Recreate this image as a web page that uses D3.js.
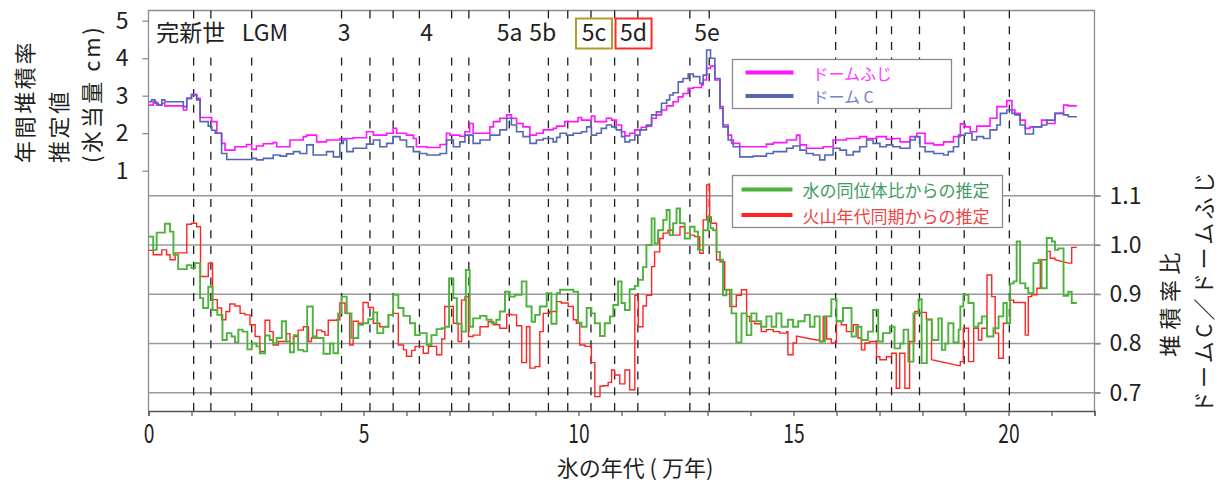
<!DOCTYPE html>
<html><head><meta charset="utf-8">
<script src="https://cdn.jsdelivr.net/npm/d3@7"></script>
<style>
body{margin:0;background:#fff;}
svg text{font-family:"Noto Sans CJK JP","Noto Sans",sans-serif;fill:#231f20;}
</style></head><body>
<svg id="chart" width="1224" height="490"></svg>
<script>
// Ice age axis (10^4 years)
const ageDomain = [0, 22];
const ageTicks = d3.range(0, 23);
const ageLabelTicks = [0, 5, 10, 15, 20];

// Accumulation rate estimates (cm ice eq. / yr), step series [start age, value]
const fujiRate = [[0.00,2.75],[0.11,2.84],[0.19,2.75],[0.31,2.80],[0.38,2.73],[0.81,2.62],[0.89,2.93],[1.00,3.04],[1.12,2.93],[1.20,2.42],[1.47,2.31],[1.59,2.00],[1.70,1.73],[1.78,1.55],[2.01,1.64],[2.28,1.70],[2.40,1.57],[2.51,1.66],[2.67,1.72],[2.90,1.75],[2.98,1.64],[3.29,1.82],[3.60,1.91],[3.68,1.95],[3.91,1.77],[4.14,1.82],[4.45,1.86],[4.76,1.88],[5.07,2.04],[5.23,1.95],[5.54,2.00],[5.69,2.13],[5.77,2.00],[6.00,1.95],[6.16,1.86],[6.23,1.64],[6.47,1.62],[6.78,1.70],[6.93,2.00],[7.01,1.95],[7.24,1.92],[7.36,2.04],[7.47,2.26],[7.55,2.00],[7.94,2.17],[8.02,2.31],[8.17,2.40],[8.33,2.49],[8.44,2.40],[8.56,2.26],[8.71,2.17],[8.87,1.95],[9.02,2.00],[9.18,2.09],[9.41,2.13],[9.49,2.19],[9.68,2.31],[9.99,2.42],[10.07,2.35],[10.30,2.46],[10.38,2.31],[10.65,2.40],[10.77,2.35],[10.88,2.22],[11.00,2.04],[11.08,1.93],[11.19,2.00],[11.31,2.09],[11.46,2.16],[11.58,2.19],[11.70,2.40],[11.81,2.49],[11.93,2.62],[12.05,2.73],[12.20,2.84],[12.32,2.97],[12.43,3.06],[12.55,3.20],[12.67,3.22],[12.86,3.29],[12.90,3.42],[12.98,3.73],[13.07,3.79],[13.17,3.42],[13.29,2.66],[13.36,2.22],[13.48,1.95],[13.56,1.73],[13.75,1.64],[14.37,1.71],[14.53,1.75],[14.84,1.82],[15.07,1.95],[15.15,1.69],[15.30,1.60],[15.69,1.64],[15.92,1.82],[16.23,1.86],[16.54,1.91],[16.70,1.86],[16.93,1.91],[17.16,1.84],[17.31,1.86],[17.48,1.77],[17.71,1.91],[17.87,2.00],[18.06,1.73],[18.26,1.69],[18.49,1.77],[18.72,1.91],[18.88,2.25],[18.99,2.17],[19.11,2.04],[19.26,2.19],[19.57,2.40],[19.73,2.71],[19.96,2.87],[20.08,2.62],[20.15,2.53],[20.27,2.35],[20.39,2.13],[20.50,2.17],[20.77,2.35],[20.89,2.26],[21.08,2.53],[21.28,2.75],[21.39,2.73],[21.59,2.73]];

const domeCRate = [[0.00,2.84],[0.07,2.89],[0.15,2.80],[0.23,2.75],[0.31,2.89],[0.38,2.84],[0.81,2.71],[0.89,2.93],[1.00,3.02],[1.12,2.89],[1.20,2.31],[1.39,2.19],[1.47,2.08],[1.55,2.00],[1.70,1.46],[1.82,1.30],[2.40,1.33],[2.51,1.29],[2.67,1.33],[2.90,1.42],[3.06,1.39],[3.21,1.45],[3.37,1.51],[3.52,1.46],[3.68,1.69],[3.83,1.42],[4.14,1.51],[4.30,1.37],[4.45,1.73],[4.53,1.82],[4.61,1.51],[4.76,1.60],[5.07,1.71],[5.23,1.82],[5.38,1.64],[5.54,1.73],[5.69,1.91],[5.85,1.82],[6.00,1.64],[6.16,1.51],[6.31,1.46],[6.47,1.42],[6.78,1.46],[6.93,1.82],[7.09,1.64],[7.24,1.77],[7.36,1.95],[7.55,1.73],[7.71,1.82],[7.94,1.95],[8.17,2.09],[8.33,2.40],[8.44,2.22],[8.56,2.04],[8.71,1.91],[8.87,1.73],[9.02,1.82],[9.18,1.86],[9.41,1.77],[9.49,1.89],[9.57,2.00],[9.72,1.95],[9.88,2.00],[10.07,2.04],[10.19,2.17],[10.30,1.95],[10.42,2.00],[10.53,2.13],[10.65,2.22],[10.77,2.17],[10.88,2.09],[11.00,1.91],[11.08,1.77],[11.19,1.82],[11.31,1.95],[11.43,2.09],[11.58,2.22],[11.70,2.49],[11.81,2.57],[11.93,2.80],[12.05,2.89],[12.12,3.02],[12.20,3.08],[12.32,3.37],[12.43,3.46],[12.55,3.58],[12.67,3.51],[12.82,3.33],[12.90,3.55],[12.98,4.22],[13.07,4.00],[13.17,3.46],[13.29,2.71],[13.36,2.17],[13.48,1.82],[13.60,1.64],[13.75,1.37],[14.06,1.39],[14.37,1.46],[14.53,1.51],[14.84,1.60],[14.99,1.66],[15.15,1.55],[15.30,1.46],[15.46,1.42],[15.61,1.29],[15.73,1.42],[15.92,1.60],[16.08,1.55],[16.23,1.42],[16.39,1.51],[16.54,1.64],[16.70,1.82],[16.85,1.73],[17.01,1.64],[17.16,1.69],[17.31,1.64],[17.48,1.60],[17.71,1.82],[17.83,1.91],[17.94,1.64],[18.06,1.51],[18.26,1.46],[18.49,1.42],[18.60,1.51],[18.72,1.64],[18.84,1.95],[18.99,2.00],[19.15,1.82],[19.26,1.91],[19.42,1.86],[19.57,2.09],[19.73,2.22],[19.81,2.53],[19.96,2.62],[20.08,2.53],[20.15,2.49],[20.27,2.22],[20.39,1.98],[20.58,2.17],[20.77,2.22],[20.89,2.35],[21.08,2.53],[21.28,2.49],[21.39,2.44],[21.59,2.44]];

// Accumulation ratio Dome C / Dome Fuji
const ratioIsotope = [[0.00,1.017],[0.11,0.990],[0.19,1.025],[0.38,1.043],[0.50,1.027],[0.58,0.980],[0.69,0.951],[0.89,0.959],[1.00,0.953],[1.08,0.963],[1.20,0.892],[1.27,0.872],[1.39,0.915],[1.49,0.868],[1.60,0.858],[1.72,0.807],[1.82,0.821],[1.93,0.814],[2.01,0.802],[2.09,0.828],[2.19,0.824],[2.30,0.788],[2.40,0.800],[2.51,0.794],[2.59,0.780],[2.71,0.816],[2.82,0.807],[2.90,0.800],[2.98,0.811],[3.10,0.845],[3.20,0.804],[3.29,0.782],[3.38,0.817],[3.48,0.787],[3.60,0.784],[3.69,0.875],[3.82,0.814],[3.91,0.811],[4.07,0.779],[4.22,0.800],[4.30,0.780],[4.41,0.861],[4.49,0.895],[4.61,0.861],[4.72,0.811],[4.88,0.838],[4.99,0.841],[5.11,0.849],[5.23,0.863],[5.32,0.821],[5.46,0.834],[5.58,0.858],[5.69,0.899],[5.81,0.872],[5.93,0.856],[6.08,0.841],[6.20,0.817],[6.31,0.821],[6.47,0.797],[6.58,0.817],[6.70,0.829],[6.82,0.831],[6.89,0.834],[6.99,0.932],[7.09,0.892],[7.17,0.840],[7.28,0.824],[7.38,0.949],[7.47,0.834],[7.55,0.851],[7.71,0.856],[7.86,0.848],[7.98,0.841],[8.09,0.848],[8.17,0.865],[8.29,0.905],[8.40,0.895],[8.52,0.899],[8.68,0.926],[8.79,0.875],[8.91,0.844],[8.99,0.858],[9.10,0.875],[9.26,0.902],[9.37,0.840],[9.49,0.902],[9.57,0.909],[9.88,0.905],[9.99,0.842],[10.07,0.834],[10.19,0.872],[10.30,0.861],[10.38,0.841],[10.50,0.815],[10.61,0.841],[10.73,0.855],[10.81,0.878],[10.92,0.926],[11.00,0.882],[11.08,0.868],[11.19,0.910],[11.31,0.917],[11.39,0.929],[11.50,0.955],[11.58,1.000],[11.70,1.054],[11.77,1.003],[11.85,1.030],[11.97,1.051],[12.05,1.071],[12.12,1.020],[12.20,1.044],[12.28,1.074],[12.36,1.044],[12.47,1.013],[12.59,1.037],[12.70,1.027],[12.78,0.990],[12.90,1.030],[13.01,1.057],[13.07,1.034],[13.13,1.030],[13.21,0.986],[13.29,0.970],[13.36,0.898],[13.44,0.909],[13.56,0.861],[13.67,0.802],[13.79,0.861],[13.91,0.817],[14.02,0.861],[14.14,0.845],[14.25,0.834],[14.37,0.855],[14.49,0.834],[14.60,0.861],[14.72,0.834],[14.87,0.848],[14.99,0.834],[15.11,0.845],[15.26,0.858],[15.38,0.834],[15.49,0.855],[15.61,0.804],[15.73,0.855],[15.88,0.890],[16.00,0.845],[16.15,0.872],[16.35,0.814],[16.46,0.834],[16.58,0.807],[16.73,0.824],[16.85,0.868],[16.97,0.804],[17.08,0.821],[17.24,0.834],[17.35,0.790],[17.48,0.800],[17.56,0.828],[17.67,0.763],[17.79,0.861],[17.91,0.890],[17.98,0.760],[18.10,0.848],[18.22,0.807],[18.37,0.851],[18.45,0.787],[18.53,0.800],[18.60,0.841],[18.72,0.802],[18.84,0.828],[18.88,0.875],[18.95,0.899],[19.07,0.882],[19.19,0.834],[19.30,0.841],[19.38,0.855],[19.50,0.814],[19.65,0.831],[19.77,0.855],[19.88,0.882],[19.96,0.841],[20.04,0.922],[20.12,0.926],[20.19,1.007],[20.27,0.922],[20.39,0.912],[20.46,0.902],[20.58,0.963],[20.70,0.970],[20.77,0.912],[20.89,1.014],[21.01,1.007],[21.08,0.990],[21.16,0.993],[21.28,0.897],[21.39,0.905],[21.47,0.882],[21.59,0.882]];

const ratioVolcanic = [[0.00,0.989],[0.11,0.980],[0.31,0.990],[0.42,0.980],[0.50,0.970],[0.62,0.984],[0.89,1.042],[1.00,1.044],[1.12,1.037],[1.21,0.936],[1.39,0.963],[1.49,0.889],[1.60,0.872],[1.70,0.848],[1.80,0.865],[1.89,0.880],[2.01,0.876],[2.13,0.861],[2.24,0.858],[2.36,0.838],[2.48,0.814],[2.59,0.784],[2.71,0.847],[2.82,0.824],[2.90,0.797],[3.02,0.804],[3.21,0.820],[3.29,0.800],[3.37,0.814],[3.48,0.827],[3.60,0.834],[3.72,0.804],[3.79,0.811],[3.91,0.827],[4.03,0.824],[4.10,0.817],[4.18,0.847],[4.37,0.848],[4.45,0.882],[4.57,0.861],[4.68,0.797],[4.76,0.845],[4.88,0.841],[4.99,0.883],[5.11,0.873],[5.23,0.841],[5.38,0.834],[5.58,0.858],[5.69,0.861],[5.81,0.797],[5.93,0.787],[6.00,0.774],[6.12,0.786],[6.20,0.794],[6.39,0.780],[6.51,0.794],[6.70,0.777],[6.82,0.809],[6.89,0.875],[7.09,0.841],[7.20,0.804],[7.28,0.888],[7.36,0.895],[7.44,0.814],[7.55,0.817],[7.71,0.834],[7.90,0.844],[8.02,0.838],[8.17,0.831],[8.33,0.859],[8.44,0.858],[8.56,0.836],[8.68,0.761],[8.79,0.834],[8.87,0.750],[8.99,0.753],[9.10,0.824],[9.18,0.861],[9.33,0.865],[9.49,0.885],[9.60,0.882],[9.76,0.875],[9.88,0.848],[9.95,0.841],[10.03,0.797],[10.15,0.794],[10.30,0.761],[10.38,0.692],[10.50,0.713],[10.57,0.714],[10.69,0.721],[10.77,0.746],[10.84,0.736],[10.96,0.718],[11.08,0.746],[11.19,0.706],[11.31,0.898],[11.39,0.834],[11.50,0.876],[11.58,0.898],[11.70,0.956],[11.77,0.986],[11.89,1.013],[11.97,1.024],[12.08,1.030],[12.20,1.020],[12.36,1.037],[12.47,1.024],[12.59,1.020],[12.70,1.017],[12.82,0.983],[12.90,1.051],[12.98,1.122],[13.05,1.057],[13.09,1.044],[13.21,0.970],[13.29,0.966],[13.40,0.909],[13.52,0.875],[13.67,0.898],[13.79,0.909],[13.91,0.855],[13.98,0.845],[14.10,0.840],[14.25,0.824],[14.37,0.828],[14.53,0.824],[14.68,0.821],[14.84,0.824],[14.87,0.777],[14.99,0.801],[15.07,0.815],[15.53,0.807],[15.61,0.804],[15.69,0.855],[15.77,0.809],[15.88,0.801],[16.00,0.845],[16.11,0.838],[16.23,0.824],[16.39,0.838],[16.50,0.811],[16.58,0.787],[16.66,0.801],[16.77,0.804],[16.93,0.773],[17.01,0.767],[17.16,0.773],[17.28,0.780],[17.39,0.709],[17.47,0.780],[17.59,0.709],[17.70,0.804],[17.82,0.865],[17.90,0.861],[17.97,0.863],[18.09,0.849],[18.21,0.767],[18.84,0.755],[18.88,0.763],[18.95,0.831],[19.07,0.763],[19.19,0.831],[19.30,0.807],[19.38,0.831],[19.50,0.939],[19.61,0.895],[19.69,0.821],[19.77,0.770],[19.88,0.841],[20.04,0.888],[20.12,0.883],[20.39,0.817],[20.46,0.895],[20.54,0.899],[20.66,0.912],[20.74,0.970],[20.89,0.987],[20.97,0.973],[21.08,0.970],[21.39,0.963],[21.47,0.995],[21.59,0.995]];
// Intervals without synchronisation points: joined by straight lines
const volcanicGapStarts = [15.07, 18.21, 21.08];

// Event markers (dashed) and period labels
const markerAges = [1.05, 1.45, 2.40, 4.49, 5.15, 5.69, 6.30, 7.05, 7.45, 8.39, 9.30, 9.75, 10.29, 10.84, 11.38, 12.59, 13.04, 15.98, 16.93, 17.28, 17.93, 18.97, 20.02];
const periodNames = ["完新世", "LGM", "3", "4", "5a", "5b", "5c", "5d", "5e"];
const periodAges = [0.98, 2.71, 4.55, 6.47, 8.40, 9.17, 10.36, 11.28, 12.99];
const periodBoxColors = {"5c": "#b59a2c", "5d": "#ff2a2a"};

const rateTicks = [1, 2, 3, 4, 5];
const ratioTicks = [0.7, 0.8, 0.9, 1.0, 1.1];

const seriesNames = ["ドームふじ", "ドーム C", "水の同位体比からの推定", "火山年代同期からの推定"];
const seriesColors = ["#ff14ff", "#5467b3", "#4db23b", "#ff2424"];
const legendTextColors = ["#ff3cff", "#7383c6", "#3f9b62", "#ee4545"];

// ---------- drawing ----------
const svg = d3.select("#chart");
const plotL = 148.5, plotR = 1094.5, plotT = 10.5, axisY = 411;
const x = d3.scaleLinear().domain(ageDomain).range([plotL, plotR]);
const yRate = d3.scaleLinear().domain([1, 5]).range([170.7, 20.7]);
const yRatio = d3.scaleLinear().domain([0.7, 1.1]).range([392.7, 195.7]);

// ratio grid
svg.append("g").selectAll("line").data(ratioTicks).join("line")
  .attr("x1", plotL).attr("x2", plotR + 6)
  .attr("y1", d => yRatio(d)).attr("y2", d => yRatio(d))
  .attr("stroke", "#9a9a9a").attr("stroke-width", 1.4);

// frame
svg.append("path")
  .attr("d", `M${plotL},${axisY}V${plotT}H${plotR}V${axisY}`)
  .attr("fill", "none").attr("stroke", "#8c8c8c").attr("stroke-width", 1.3);

// dashed event markers: pattern chosen so both ends finish on a dash
const dashLen = 8, markerLen = axisY - plotT;
const gapLen = (markerLen - dashLen) / 25 - dashLen;
svg.append("g").selectAll("line").data(markerAges).join("line")
  .attr("x1", d => x(d)).attr("x2", d => x(d))
  .attr("y1", plotT).attr("y2", axisY)
  .attr("stroke", "#1e1e1e").attr("stroke-width", 1.3)
  .attr("stroke-dasharray", `${dashLen},${gapLen}`);

// white strip behind the period names (under the data lines)
svg.append("rect").attr("x", plotL + 1).attr("y", 19)
  .attr("width", x(13.45) - plotL - 1).attr("height", 34).attr("fill", "#fff");

// step series to vertex lists
function stepVertices(data, linearStarts = []) {
  const out = [data[0]];
  for (let i = 1; i < data.length; i++) {
    const prev = data[i - 1];
    if (!linearStarts.includes(prev[0])) out.push([data[i][0], prev[1]]);
    out.push(data[i]);
  }
  return out;
}
const lineRate = d3.line().x(d => x(d[0])).y(d => yRate(d[1]));
const lineRatio = d3.line().x(d => x(d[0])).y(d => yRatio(d[1]));

svg.append("path").attr("d", lineRate(stepVertices(fujiRate)))
  .attr("fill", "none").attr("stroke", seriesColors[0]).attr("stroke-width", 1.6);
svg.append("path").attr("d", lineRate(stepVertices(domeCRate)))
  .attr("fill", "none").attr("stroke", seriesColors[1]).attr("stroke-width", 1.6);
svg.append("path").attr("d", lineRatio(stepVertices(ratioVolcanic, volcanicGapStarts)))
  .attr("fill", "none").attr("stroke", seriesColors[3]).attr("stroke-width", 1.4);
svg.append("path").attr("d", lineRatio(stepVertices(ratioIsotope)))
  .attr("fill", "none").attr("stroke", seriesColors[2]).attr("stroke-width", 1.9);

// period labels
const labelG = svg.append("g");
periodNames.forEach((name, i) => {
  const boxed = periodBoxColors[name];
  if (boxed) {
    labelG.append("rect").attr("x", x(periodAges[i]) - 18).attr("y", 18.5)
      .attr("width", 36).attr("height", 30)
      .attr("fill", "#fff").attr("stroke", boxed).attr("stroke-width", 2);
  }
  labelG.append("text").attr("x", x(periodAges[i])).attr("y", 41)
    .attr("text-anchor", "middle").attr("font-size", 23).text(name);
});

// left axis (accumulation rate)
const axL = svg.append("g").attr("transform", `translate(${plotL},0)`)
  .call(d3.axisLeft(yRate).tickValues(rateTicks).tickSize(6).tickPadding(14).tickFormat(d3.format("d")));
axL.select(".domain").remove();
axL.selectAll("line").attr("stroke", "#8c8c8c").attr("stroke-width", 1.3);
axL.selectAll("text").attr("font-size", 23).attr("fill", "#231f20")
  .style("font-family", '"Noto Sans CJK JP",sans-serif');

// right axis (ratio)
const axR = svg.append("g").attr("transform", `translate(${plotR},0)`)
  .call(d3.axisRight(yRatio).tickValues(ratioTicks).tickSize(6).tickPadding(9).tickFormat(d3.format(".1f")));
axR.select(".domain").remove();
axR.selectAll("line").attr("stroke", "#8c8c8c").attr("stroke-width", 1.3);
axR.selectAll("text").attr("font-size", 23).attr("fill", "#231f20")
  .style("font-family", '"Noto Sans CJK JP",sans-serif');

// bottom axis (age); numerals are horizontally condensed
const axB = svg.append("g").attr("transform", `translate(0,${axisY})`)
  .call(d3.axisBottom(x).tickValues(ageTicks).tickSize(5).tickPadding(9)
    .tickFormat(d => ageLabelTicks.includes(d) ? d3.format("d")(d) : ""));
axB.select(".domain").attr("stroke", "#555").attr("stroke-width", 1.3);
axB.selectAll("line").attr("stroke", "#555").attr("stroke-width", 1.2);
axB.selectAll("text").attr("font-size", 26).attr("fill", "#231f20")
  .style("font-family", '"Noto Sans CJK JP",sans-serif')
  .attr("transform", "scale(0.74,1)");

svg.append("text").attr("x", 635).attr("y", 476).attr("text-anchor", "middle")
  .attr("font-size", 22).text("氷の年代 ( 万年)");

// left title
const leftTitle = ["年間堆積率", "推定値", "(氷当量 cm)"];
const leftTitleX = [23, 57, 90];
leftTitle.forEach((s, i) => {
  svg.append("text").attr("transform", `translate(${leftTitleX[i]},163) rotate(-90)`)
    .attr("dominant-baseline", "central").attr("font-size", 22)
    .attr("letter-spacing", 2.6).text(s);
});
// right title
svg.append("text").attr("transform", "translate(1168,302) rotate(-90)")
  .attr("text-anchor", "middle").attr("dominant-baseline", "central")
  .attr("font-size", 22).attr("letter-spacing", 5.5).text("堆積率比");
svg.append("text").attr("transform", "translate(1202,291) rotate(-90)")
  .attr("text-anchor", "middle").attr("dominant-baseline", "central")
  .attr("font-size", 22).attr("letter-spacing", 3.4).text("ドームC／ドームふじ");

// legends
function legend(x0, y0, w, h, rows, idx, lineW, fs) {
  const g = svg.append("g");
  g.append("rect").attr("x", x0).attr("y", y0).attr("width", w).attr("height", h)
    .attr("fill", "#fff").attr("stroke", "#8a8a8a").attr("stroke-width", 1.3);
  idx.forEach((k, j) => {
    g.append("line").attr("x1", x0 + lineW[0]).attr("x2", x0 + lineW[1])
      .attr("y1", rows[j]).attr("y2", rows[j])
      .attr("stroke", seriesColors[k]).attr("stroke-width", 4);
    g.append("text").attr("x", x0 + lineW[2]).attr("y", rows[j])
      .attr("dominant-baseline", "central").attr("font-size", fs)
      .style("fill", legendTextColors[k]).text(seriesNames[k]);
  });
}
legend(732.5, 59.5, 219, 49, [72.5, 96], [0, 1], [13, 61, 80], 16);
legend(732.5, 175.5, 270, 52, [189.5, 215], [2, 3], [9, 60, 70], 17);
</script>
</body></html>
